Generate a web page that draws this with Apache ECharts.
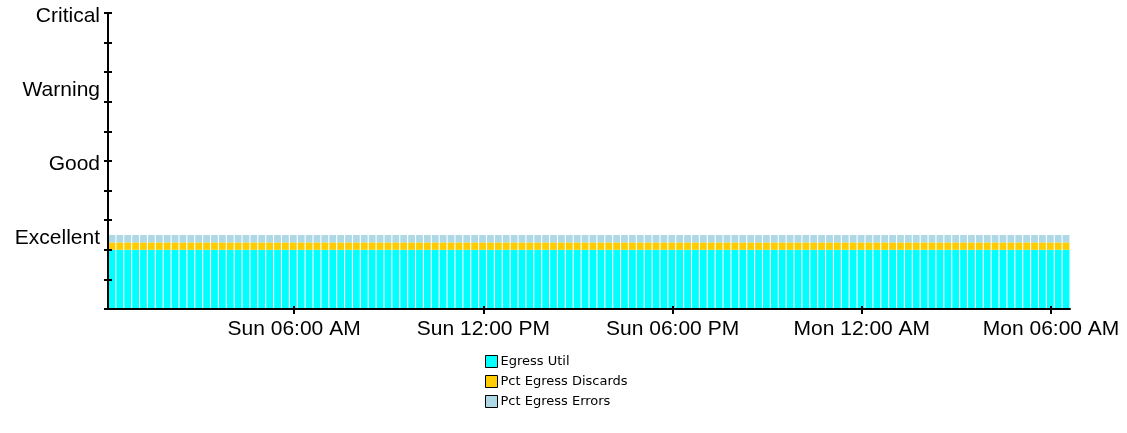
<!DOCTYPE html>
<html><head><meta charset="utf-8">
<script src="https://cdn.jsdelivr.net/npm/echarts@6/dist/echarts.min.js"></script>
<style>html,body{margin:0;padding:0;background:#fff}#c{width:1127px;height:433px}</style>
</head><body><div id="c"></div>
<script>
const seriesNames = ['Egress Util', 'Pct Egress Discards', 'Pct Egress Errors'];
const egressUtil = [
  20,20,20,20,20,20,20,20,20,20,20,20,20,20,20,20,20,20,20,20,
  20,20,20,20,20,20,20,20,20,20,20,20,20,20,20,20,20,20,20,20,
  20,20,20,20,20,20,20,20,20,20,20,20,20,20,20,20,20,20,20,20,
  20,20,20,20,20,20,20,20,20,20,20,20,20,20,20,20,20,20,20,20,
  20,20,20,20,20,20,20,20,20,20,20,20,20,20,20,20,20,20,20,20,
  20,20,20,20,20,20,20,20,20,20,20,20,20,20,20,20,20,20,20,20,
  20,20
];
const pctEgressDiscards = [
  2.5,2.5,2.5,2.5,2.5,2.5,2.5,2.5,2.5,2.5,2.5,2.5,2.5,2.5,2.5,2.5,2.5,2.5,2.5,2.5,
  2.5,2.5,2.5,2.5,2.5,2.5,2.5,2.5,2.5,2.5,2.5,2.5,2.5,2.5,2.5,2.5,2.5,2.5,2.5,2.5,
  2.5,2.5,2.5,2.5,2.5,2.5,2.5,2.5,2.5,2.5,2.5,2.5,2.5,2.5,2.5,2.5,2.5,2.5,2.5,2.5,
  2.5,2.5,2.5,2.5,2.5,2.5,2.5,2.5,2.5,2.5,2.5,2.5,2.5,2.5,2.5,2.5,2.5,2.5,2.5,2.5,
  2.5,2.5,2.5,2.5,2.5,2.5,2.5,2.5,2.5,2.5,2.5,2.5,2.5,2.5,2.5,2.5,2.5,2.5,2.5,2.5,
  2.5,2.5,2.5,2.5,2.5,2.5,2.5,2.5,2.5,2.5,2.5,2.5,2.5,2.5,2.5,2.5,2.5,2.5,2.5,2.5,
  2.5,2.5
];
const pctEgressErrors = [
  2.5,2.5,2.5,2.5,2.5,2.5,2.5,2.5,2.5,2.5,2.5,2.5,2.5,2.5,2.5,2.5,2.5,2.5,2.5,2.5,
  2.5,2.5,2.5,2.5,2.5,2.5,2.5,2.5,2.5,2.5,2.5,2.5,2.5,2.5,2.5,2.5,2.5,2.5,2.5,2.5,
  2.5,2.5,2.5,2.5,2.5,2.5,2.5,2.5,2.5,2.5,2.5,2.5,2.5,2.5,2.5,2.5,2.5,2.5,2.5,2.5,
  2.5,2.5,2.5,2.5,2.5,2.5,2.5,2.5,2.5,2.5,2.5,2.5,2.5,2.5,2.5,2.5,2.5,2.5,2.5,2.5,
  2.5,2.5,2.5,2.5,2.5,2.5,2.5,2.5,2.5,2.5,2.5,2.5,2.5,2.5,2.5,2.5,2.5,2.5,2.5,2.5,
  2.5,2.5,2.5,2.5,2.5,2.5,2.5,2.5,2.5,2.5,2.5,2.5,2.5,2.5,2.5,2.5,2.5,2.5,2.5,2.5,
  2.5,2.5
];
const yLabelValues = [25, 50, 75, 100];
const yLabelTexts = ['Excellent', 'Good', 'Warning', 'Critical'];
const xTickHours = [6, 12, 18, 24, 30];
const xTickLabels = ['Sun 06:00 AM', 'Sun 12:00 PM', 'Sun 06:00 PM', 'Mon 12:00 AM', 'Mon 06:00 AM'];
const startHour = 0.1;   // hours after Sun 00:00 where the first sample starts
const stepHours = 0.25;  // sample interval

const categories = egressUtil.map((_, i) => String(startHour + i * stepHours));
const endHour = startHour + egressUtil.length * stepHours;

const FONT = 'Liberation Sans, Arial, sans-serif';
const chart = echarts.init(document.getElementById('c'), null, {renderer: 'canvas'});
const axisBlack = {lineStyle: {color: '#000', width: 2}};
const hiddenValueY = (extra) => Object.assign({
  type: 'value', position: 'left', min: 0, max: 100, interval: 10,
  splitLine: {show: false}, axisLabel: {show: false}, z: 5
}, extra);

chart.setOption({
  animation: false,
  backgroundColor: '#fff',
  grid: {left: 108, right: 57, top: 13, bottom: 124, outerBoundsMode: 'none', containLabel: false},
  legend: {
    orient: 'vertical', left: 480, top: 350,
    itemWidth: 12, itemHeight: 12, itemGap: 7,
    icon: 'rect',
    itemStyle: {borderColor: '#000', borderWidth: 1},
    textStyle: {fontFamily: 'DejaVu Sans, sans-serif', fontSize: 13, color: '#000', padding: [0, 0, 0, -2]},
    data: seriesNames
  },
  xAxis: [
    {type: 'category', data: categories, boundaryGap: true, z: 5,
     axisLine: axisBlack, axisTick: {show: false}, axisLabel: {show: false}, splitLine: {show: false}},
    {type: 'value', position: 'bottom', min: startHour, max: endHour, z: 5,
     axisLine: {show: false}, splitLine: {show: false},
     axisTick: {show: true, inside: false, length: 5, customValues: xTickHours, lineStyle: {color: '#000', width: 2}},
     axisLabel: {show: true, margin: 10, customValues: xTickHours, fontFamily: FONT, fontSize: 21, color: '#000',
       formatter: (v) => { const i = xTickHours.indexOf(Math.round(v)); return i >= 0 ? xTickLabels[i] : ''; }}},
    {type: 'value', position: 'bottom', min: startHour, max: endHour, z: 5,
     axisLine: {show: false}, splitLine: {show: false}, axisLabel: {show: false},
     axisTick: {show: true, inside: true, length: 3, customValues: xTickHours, lineStyle: {color: '#000', width: 2}}}
  ],
  yAxis: [
    hiddenValueY({axisLine: axisBlack, axisTick: {show: true, inside: false, length: 4, lineStyle: {color: '#000', width: 2}}}),
    hiddenValueY({axisLine: {show: false}, axisTick: {show: true, inside: true, length: 4, lineStyle: {color: '#000', width: 2}}}),
    {type: 'value', position: 'left', min: 0, max: 100, splitLine: {show: false}, axisLine: {show: false}, axisTick: {show: false},
     axisLabel: {show: true, margin: 8, customValues: yLabelValues, color: '#000',
       rich: {t: {fontFamily: FONT, fontSize: 21, color: '#000', padding: [6, 0, 0, 0]}},
       formatter: (v) => { const i = yLabelValues.indexOf(Math.round(v)); return i >= 0 ? '{t|' + yLabelTexts[i] + '}' : ''; }}}
  ],
  series: [
    {name: seriesNames[0], type: 'bar', stack: 'a', data: egressUtil, barCategoryGap: '14%',
     itemStyle: {color: '#00FFFF'}, z: 1},
    {name: seriesNames[1], type: 'bar', stack: 'a', data: pctEgressDiscards, barCategoryGap: '14%',
     itemStyle: {color: '#FFCC00'}, z: 1},
    {name: seriesNames[2], type: 'bar', stack: 'a', data: pctEgressErrors, barCategoryGap: '14%',
     itemStyle: {color: '#ADD8E6'}, z: 1}
  ]
});
</script></body></html>
